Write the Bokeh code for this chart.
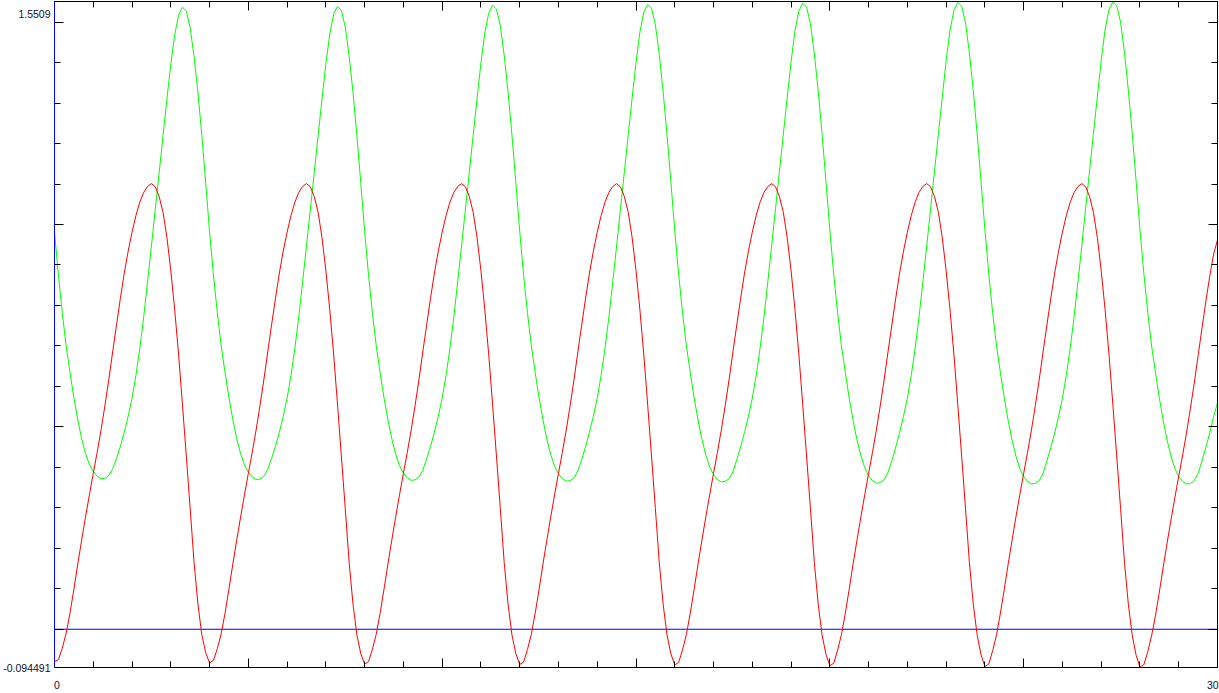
from bokeh.plotting import figure
from bokeh.models import Range1d, LinearAxis, FixedTicker, Span
from bokeh.embed import file_html
from bokeh.resources import INLINE

# ---------------- data ----------------
t = [
    0.0, 0.1, 0.2, 0.3, 0.4, 0.5, 0.6, 0.7, 0.8, 0.9,
    1.0, 1.1, 1.2, 1.3, 1.4, 1.5, 1.6, 1.7, 1.8, 1.9,
    2.0, 2.1, 2.2, 2.3, 2.4, 2.5, 2.6, 2.7, 2.8, 2.9,
    3.0, 3.1, 3.2, 3.3, 3.4, 3.5, 3.6, 3.7, 3.8, 3.9,
    4.0, 4.1, 4.2, 4.3, 4.4, 4.5, 4.6, 4.7, 4.8, 4.9,
    5.0, 5.1, 5.2, 5.3, 5.4, 5.5, 5.6, 5.7, 5.8, 5.9,
    6.0, 6.1, 6.2, 6.3, 6.4, 6.5, 6.6, 6.7, 6.8, 6.9,
    7.0, 7.1, 7.2, 7.3, 7.4, 7.5, 7.6, 7.7, 7.8, 7.9,
    8.0, 8.1, 8.2, 8.3, 8.4, 8.5, 8.6, 8.7, 8.8, 8.9,
    9.0, 9.1, 9.2, 9.3, 9.4, 9.5, 9.6, 9.7, 9.8, 9.9,
    10.0, 10.1, 10.2, 10.3, 10.4, 10.5, 10.6, 10.7, 10.8, 10.9,
    11.0, 11.1, 11.2, 11.3, 11.4, 11.5, 11.6, 11.7, 11.8, 11.9,
    12.0, 12.1, 12.2, 12.3, 12.4, 12.5, 12.6, 12.7, 12.8, 12.9,
    13.0, 13.1, 13.2, 13.3, 13.4, 13.5, 13.6, 13.7, 13.8, 13.9,
    14.0, 14.1, 14.2, 14.3, 14.4, 14.5, 14.6, 14.7, 14.8, 14.9,
    15.0, 15.1, 15.2, 15.3, 15.4, 15.5, 15.6, 15.7, 15.8, 15.9,
    16.0, 16.1, 16.2, 16.3, 16.4, 16.5, 16.6, 16.7, 16.8, 16.9,
    17.0, 17.1, 17.2, 17.3, 17.4, 17.5, 17.6, 17.7, 17.8, 17.9,
    18.0, 18.1, 18.2, 18.3, 18.4, 18.5, 18.6, 18.7, 18.8, 18.9,
    19.0, 19.1, 19.2, 19.3, 19.4, 19.5, 19.6, 19.7, 19.8, 19.9,
    20.0, 20.1, 20.2, 20.3, 20.4, 20.5, 20.6, 20.7, 20.8, 20.9,
    21.0, 21.1, 21.2, 21.3, 21.4, 21.5, 21.6, 21.7, 21.8, 21.9,
    22.0, 22.1, 22.2, 22.3, 22.4, 22.5, 22.6, 22.7, 22.8, 22.9,
    23.0, 23.1, 23.2, 23.3, 23.4, 23.5, 23.6, 23.7, 23.8, 23.9,
    24.0, 24.1, 24.2, 24.3, 24.4, 24.5, 24.6, 24.7, 24.8, 24.9,
    25.0, 25.1, 25.2, 25.3, 25.4, 25.5, 25.6, 25.7, 25.8, 25.9,
    26.0, 26.1, 26.2, 26.3, 26.4, 26.5, 26.6, 26.7, 26.8, 26.9,
    27.0, 27.1, 27.2, 27.3, 27.4, 27.5, 27.6, 27.7, 27.8, 27.9,
    28.0, 28.1, 28.2, 28.3, 28.4, 28.5, 28.6, 28.7, 28.8, 28.9,
    29.0, 29.1, 29.2, 29.3, 29.4, 29.5, 29.6, 29.7, 29.8, 29.9,
    30.0,
]

red = [
    -0.080, -0.075, -0.047, -0.010, 0.040, 0.099, 0.161, 0.220, 0.277, 0.332,
    0.385, 0.437, 0.492, 0.552, 0.616, 0.685, 0.752, 0.818, 0.880, 0.934,
    0.981, 1.022, 1.055, 1.079, 1.094, 1.101, 1.093, 1.069, 1.030, 0.968,
    0.886, 0.790, 0.680, 0.556, 0.428, 0.298, 0.165, 0.062, -0.014, -0.058,
    -0.083, -0.077, -0.048, -0.011, 0.040, 0.099, 0.161, 0.220, 0.277, 0.332,
    0.385, 0.437, 0.492, 0.552, 0.616, 0.685, 0.752, 0.818, 0.880, 0.934,
    0.981, 1.022, 1.055, 1.079, 1.094, 1.101, 1.093, 1.069, 1.030, 0.968,
    0.886, 0.790, 0.680, 0.556, 0.428, 0.298, 0.165, 0.062, -0.014, -0.060,
    -0.086, -0.080, -0.050, -0.012, 0.040, 0.099, 0.161, 0.220, 0.277, 0.332,
    0.385, 0.437, 0.492, 0.552, 0.616, 0.685, 0.752, 0.818, 0.880, 0.934,
    0.981, 1.022, 1.055, 1.079, 1.094, 1.101, 1.093, 1.069, 1.030, 0.968,
    0.886, 0.790, 0.680, 0.556, 0.428, 0.298, 0.165, 0.062, -0.014, -0.060,
    -0.087, -0.081, -0.050, -0.012, 0.040, 0.099, 0.161, 0.220, 0.277, 0.332,
    0.385, 0.437, 0.492, 0.552, 0.616, 0.685, 0.752, 0.818, 0.880, 0.934,
    0.981, 1.022, 1.055, 1.079, 1.094, 1.101, 1.093, 1.069, 1.030, 0.968,
    0.886, 0.790, 0.680, 0.556, 0.428, 0.298, 0.165, 0.062, -0.014, -0.061,
    -0.088, -0.082, -0.051, -0.013, 0.040, 0.099, 0.161, 0.220, 0.277, 0.332,
    0.385, 0.437, 0.492, 0.552, 0.616, 0.685, 0.752, 0.818, 0.880, 0.934,
    0.981, 1.022, 1.055, 1.079, 1.094, 1.101, 1.093, 1.069, 1.030, 0.968,
    0.886, 0.790, 0.680, 0.556, 0.428, 0.298, 0.165, 0.062, -0.014, -0.062,
    -0.090, -0.084, -0.052, -0.013, 0.040, 0.099, 0.161, 0.220, 0.277, 0.332,
    0.385, 0.437, 0.492, 0.552, 0.616, 0.685, 0.752, 0.818, 0.880, 0.934,
    0.981, 1.022, 1.055, 1.079, 1.094, 1.101, 1.093, 1.069, 1.030, 0.968,
    0.886, 0.790, 0.680, 0.556, 0.428, 0.298, 0.165, 0.062, -0.014, -0.063,
    -0.092, -0.086, -0.053, -0.014, 0.040, 0.099, 0.161, 0.220, 0.277, 0.332,
    0.385, 0.437, 0.492, 0.552, 0.616, 0.685, 0.752, 0.818, 0.880, 0.934,
    0.981, 1.022, 1.055, 1.079, 1.094, 1.101, 1.093, 1.069, 1.030, 0.968,
    0.886, 0.790, 0.680, 0.556, 0.428, 0.298, 0.165, 0.062, -0.014, -0.064,
    -0.0935, -0.088, -0.056, -0.016, 0.034, 0.092, 0.154, 0.213, 0.270, 0.325,
    0.378, 0.430, 0.485, 0.545, 0.608, 0.676, 0.744, 0.810, 0.872, 0.927,
    0.962,
]

green = [
    0.982, 0.875, 0.782, 0.700, 0.634, 0.572, 0.518, 0.471, 0.434, 0.407,
    0.390, 0.378, 0.372, 0.373, 0.380, 0.396, 0.422, 0.452, 0.487, 0.526,
    0.571, 0.627, 0.694, 0.771, 0.858, 0.947, 1.038, 1.128, 1.220, 1.310,
    1.396, 1.468, 1.517, 1.537, 1.527, 1.486, 1.415, 1.326, 1.220, 1.103,
    0.982, 0.875, 0.782, 0.700, 0.634, 0.572, 0.518, 0.471, 0.434, 0.406,
    0.388, 0.376, 0.370, 0.371, 0.378, 0.395, 0.422, 0.452, 0.487, 0.526,
    0.571, 0.627, 0.694, 0.771, 0.858, 0.947, 1.038, 1.128, 1.220, 1.310,
    1.397, 1.470, 1.519, 1.539, 1.529, 1.488, 1.416, 1.326, 1.220, 1.103,
    0.983, 0.876, 0.782, 0.700, 0.634, 0.572, 0.518, 0.471, 0.433, 0.404,
    0.386, 0.374, 0.368, 0.369, 0.376, 0.393, 0.421, 0.452, 0.487, 0.526,
    0.571, 0.627, 0.694, 0.771, 0.858, 0.947, 1.038, 1.129, 1.221, 1.311,
    1.399, 1.473, 1.522, 1.542, 1.532, 1.491, 1.418, 1.327, 1.221, 1.104,
    0.984, 0.876, 0.782, 0.700, 0.634, 0.572, 0.518, 0.470, 0.432, 0.403,
    0.384, 0.372, 0.366, 0.367, 0.374, 0.391, 0.420, 0.451, 0.487, 0.526,
    0.571, 0.627, 0.694, 0.771, 0.858, 0.947, 1.039, 1.130, 1.222, 1.312,
    1.400, 1.475, 1.524, 1.544, 1.534, 1.493, 1.420, 1.328, 1.222, 1.105,
    0.985, 0.877, 0.782, 0.700, 0.634, 0.572, 0.517, 0.469, 0.431, 0.401,
    0.382, 0.370, 0.364, 0.365, 0.372, 0.389, 0.419, 0.451, 0.486, 0.526,
    0.571, 0.627, 0.694, 0.771, 0.858, 0.948, 1.040, 1.131, 1.223, 1.313,
    1.402, 1.478, 1.527, 1.547, 1.537, 1.496, 1.422, 1.330, 1.223, 1.106,
    0.986, 0.877, 0.782, 0.700, 0.634, 0.571, 0.516, 0.468, 0.429, 0.399,
    0.379, 0.367, 0.361, 0.362, 0.369, 0.387, 0.417, 0.450, 0.486, 0.526,
    0.571, 0.627, 0.694, 0.771, 0.858, 0.948, 1.040, 1.132, 1.224, 1.314,
    1.404, 1.480, 1.529, 1.549, 1.539, 1.498, 1.424, 1.331, 1.224, 1.107,
    0.987, 0.878, 0.782, 0.700, 0.634, 0.571, 0.516, 0.467, 0.428, 0.397,
    0.377, 0.365, 0.359, 0.360, 0.367, 0.385, 0.416, 0.449, 0.485, 0.525,
    0.571, 0.627, 0.694, 0.771, 0.858, 0.948, 1.041, 1.133, 1.225, 1.315,
    1.405, 1.481, 1.531, 1.5505, 1.541, 1.500, 1.425, 1.332, 1.225, 1.108,
    0.988, 0.879, 0.783, 0.700, 0.634, 0.571, 0.516, 0.467, 0.428, 0.397,
    0.377, 0.365, 0.359, 0.360, 0.367, 0.385, 0.416, 0.449, 0.485, 0.525,
    0.560,
]

x_start, x_end = 0, 30
y_min, y_max = -0.094491, 1.5509
x_major_ticks = [0, 5, 10, 15, 20, 25, 30]
x_minor_ticks = [0, 1, 2, 3, 4, 5, 6, 7, 8, 9, 10, 11, 12, 13, 14, 15,
                 16, 17, 18, 19, 20, 21, 22, 23, 24, 25, 26, 27, 28, 29, 30]
y_major_ticks = [0.0, 0.5, 1.0, 1.5]
y_minor_ticks = [0.0, 0.1, 0.2, 0.3, 0.4, 0.5, 0.6, 0.7, 0.8, 0.9,
                 1.0, 1.1, 1.2, 1.3, 1.4, 1.5]
y_label_top = "1.5509"
y_label_bottom = "-0.094491"
x_label_left = "0"
x_label_right = "30"

# label anchor positions (layout: where the end labels sit along each axis)
y_label_top_pos = 1.519
y_label_bottom_pos = y_min
x_label_left_pos = 0.06
x_label_right_pos = 29.88

FONT = "Liberation Sans"
TXT = "#101030"

# ---------------- figure ----------------
p = figure(width=1219, height=693, output_backend="svg", toolbar_location=None,
           x_range=Range1d(x_start, x_end), y_range=Range1d(y_min, y_max),
           x_axis_type=None, y_axis_type=None,
           min_border_left=52, min_border_right=2, min_border_top=1,
           min_border_bottom=26)
p.outline_line_color = None
p.background_fill_color = "white"
p.border_fill_color = "white"


def tick_axis(major, minor, line_color):
    ax = LinearAxis(ticker=FixedTicker(ticks=major, minor_ticks=minor))
    ax.axis_line_color = line_color
    ax.axis_line_width = 1
    ax.major_tick_line_color = "black"
    ax.minor_tick_line_color = "black"
    ax.major_tick_in = 9
    ax.major_tick_out = 0
    ax.minor_tick_in = 6
    ax.minor_tick_out = 0
    ax.major_label_text_color = None
    ax.major_label_text_font_size = "0px"
    ax.major_label_standoff = 0
    return ax


def label_axis(ticks, texts, standoff):
    ax = LinearAxis(ticker=FixedTicker(ticks=ticks, minor_ticks=[]))
    ax.axis_line_color = None
    ax.major_tick_line_color = None
    ax.minor_tick_line_color = None
    ax.major_tick_in = 0
    ax.major_tick_out = 0
    ax.minor_tick_in = 0
    ax.minor_tick_out = 0
    ax.major_label_overrides = dict(zip(ticks, texts))
    ax.major_label_standoff = standoff
    ax.major_label_text_font = FONT
    ax.major_label_text_font_size = "10.5px"
    ax.major_label_text_color = TXT
    return ax


p.add_layout(tick_axis(y_major_ticks, y_minor_ticks, "#0000FF"), "left")
p.add_layout(label_axis([y_label_bottom_pos, y_label_top_pos],
                        [y_label_bottom, y_label_top], 4), "left")
p.add_layout(tick_axis(y_major_ticks, y_minor_ticks, "black"), "right")
p.add_layout(tick_axis(x_major_ticks, x_minor_ticks, "black"), "below")
p.add_layout(label_axis([x_label_left_pos, x_label_right_pos],
                        [x_label_left, x_label_right], 13), "below")
p.add_layout(tick_axis(x_major_ticks, x_minor_ticks, "black"), "above")

zero = Span(location=0, dimension="width", line_color="#0000FF", line_width=1,
            level="underlay")
p.add_layout(zero)

p.line(t, green, line_color="#00FF00", line_width=1)
p.line(t, red, line_color="#FF0000", line_width=1)

open("out.html", "w").write(file_html(p, INLINE))
